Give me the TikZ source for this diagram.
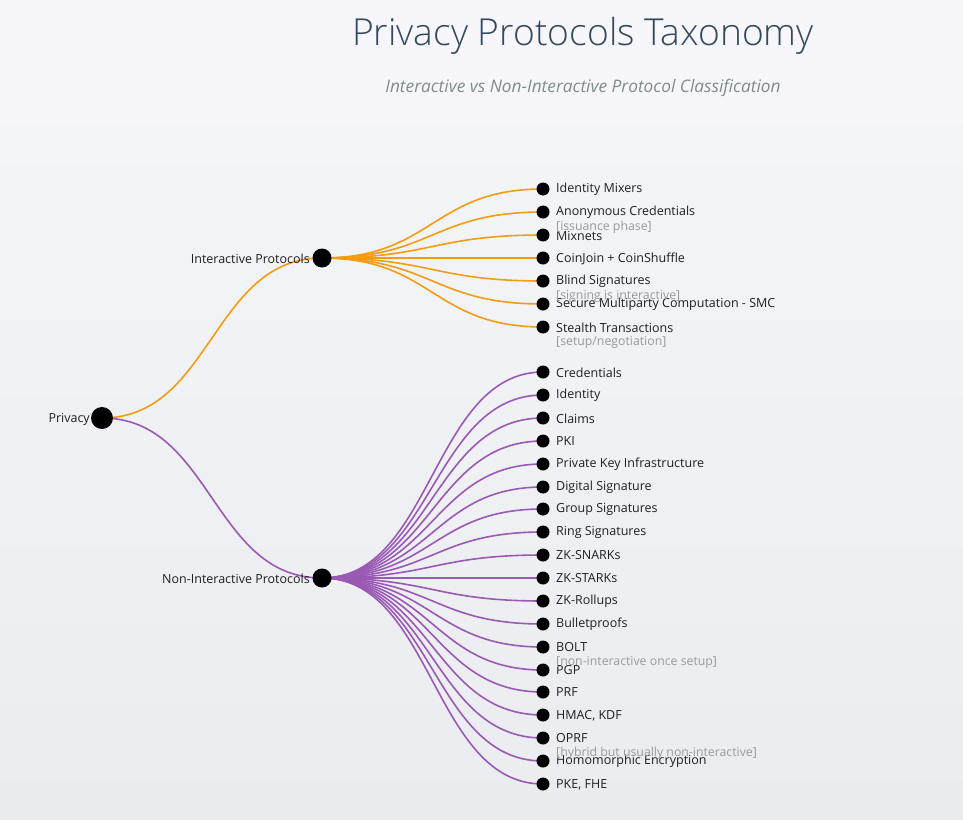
\documentclass[tikz,border=0pt]{standalone}
\usepackage{fontspec}
\setmainfont{Open Sans}
\newfontfamily\titlefont{Open Sans Light}
\pgfdeclarelayer{bg}
\pgfdeclarelayer{links}
\pgfsetlayers{bg,links,main}
\definecolor{iorange}{HTML}{F39C12}
\definecolor{npurple}{HTML}{9B59B6}
\definecolor{titlecol}{HTML}{34495E}
\definecolor{subcol}{HTML}{7F8C8D}
\definecolor{notecol}{HTML}{999999}
\definecolor{headbg}{HTML}{F7F7FB}
\definecolor{bodytop}{HTML}{F4F5F8}
\definecolor{bodybot}{HTML}{EAECEF}
\tikzset{
  rootdot/.style={circle,fill=black,minimum size=22pt,inner sep=0pt},
  middot/.style={circle,fill=black,minimum size=19pt,inner sep=0pt},
  leafdot/.style={circle,fill=black,minimum size=13pt,inner sep=0pt},
  lab/.style={font=\fontsize{12.5}{14}\selectfont,text=black!88,inner sep=0pt},
  note/.style={font=\fontsize{12.3}{14}\selectfont,text=notecol,inner sep=0pt,anchor=west},
  ilink/.style={draw=iorange,line width=1.6pt},
  nlink/.style={draw=npurple,line width=1.6pt},
}
\begin{document}
\begin{tikzpicture}[x=1pt,y=-1pt]
\useasboundingbox (0,0) rectangle (963,819);
\begin{pgfonlayer}{bg}
\shade[top color=bodytop,bottom color=bodybot] (0,125) rectangle (963,819);
\fill[headbg] (0,0) rectangle (963,125);
\end{pgfonlayer}
\node[font=\titlefont\fontsize{37.2}{43}\selectfont,text=titlecol] (title) at (583,36) {Privacy Protocols Taxonomy};
\node[font=\fontsize{17.3}{20}\selectfont\itshape,text=subcol] (subtitle) at (583,88) {Interactive vs Non-Interactive Protocol Classification};

\node[rootdot] (root) at (102,418) {};
\node[lab,anchor=east] (rootlab) at (90,419) {Privacy};
\node[middot] (int) at (322,258) {};
\node[lab,anchor=east] (intlab) at (310,259) {Interactive Protocols};
\node[middot] (non) at (322,578) {};
\node[lab,anchor=east] (nonlab) at (310,579) {Non-Interactive Protocols};

\begin{pgfonlayer}{links}
\draw[ilink] (root.center) .. controls (212,418) and (212,258) .. (int.center);
\draw[nlink] (root.center) .. controls (212,418) and (212,578) .. (non.center);
\end{pgfonlayer}

\foreach \y/\t [count=\k] in {189/Identity Mixers,212/Anonymous Credentials,235/Mixnets,258/CoinJoin + CoinShuffle,281/Blind Signatures,304/Secure Multiparty Computation - SMC,327/Stealth Transactions}{
  \node[leafdot] (i\k) at (543,\y) {};
  \node[lab,anchor=west] (il\k) at (556,\y+0.5) {\t};
  \begin{pgfonlayer}{links}
  \draw[ilink] (int.center) .. controls (432.5,258) and (432.5,\y) .. (i\k.center);
  \end{pgfonlayer}
}
\node[note] (in2) at (556,227) {[issuance phase]};
\node[note] (in5) at (556,296) {[signing is interactive]};
\node[note] (in7) at (556,342) {[setup/negotiation]};

\foreach \y/\t [count=\k] in {372/Credentials,395/Identity,418/Claims,441/PKI,464/Private Key Infrastructure,487/Digital Signature,509/Group Signatures,532/Ring Signatures,555/ZK-SNARKs,578/ZK-STARKs,601/ZK-Rollups,624/Bulletproofs,647/BOLT,670/PGP,692/PRF,715/{HMAC, KDF},738/OPRF,761/Homomorphic Encryption,784/{PKE, FHE}}{
  \node[leafdot] (n\k) at (543,\y) {};
  \node[lab,anchor=west] (nl\k) at (556,\y+0.5) {\t};
  \begin{pgfonlayer}{links}
  \draw[nlink] (non.center) .. controls (432.5,578) and (432.5,\y) .. (n\k.center);
  \end{pgfonlayer}
}
\node[note] (nn13) at (556,662) {[non-interactive once setup]};
\node[note] (nn17) at (556,753) {[hybrid but usually non-interactive]};
\end{tikzpicture}
\end{document}
